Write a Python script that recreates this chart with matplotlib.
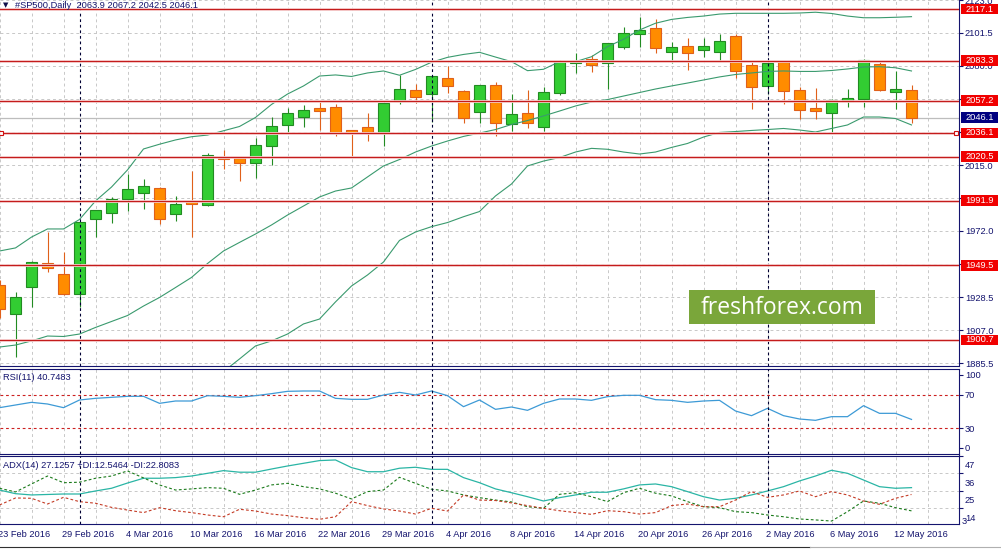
import numpy as np
import matplotlib
matplotlib.use("Agg")
import matplotlib.pyplot as plt
from matplotlib import transforms
from matplotlib.patches import Rectangle
from matplotlib.lines import Line2D

plt.rcParams['font.family'] = ['Liberation Sans', 'DejaVu Sans']

# ---- data (daily candles, 23 Feb 2016 .. 13 May 2016) ----
opens = [1936.7, 1917.5, 1935.2, 1950.8, 1943.6, 1930.6, 1979.6, 1983.9, 1992.7, 1996.6,
         1999.9, 1982.9, 1991.4, 1989.2, 2019.8, 2019.5, 2016.2, 2027.7, 2041.1, 2046.3,
         2052.2, 2052.8, 2037.8, 2039.8, 2036.5, 2057.1, 2063.9, 2061.3, 2071.8, 2063.3,
         2049.6, 2067.2, 2041.7, 2048.9, 2040.1, 2062.0, 2082.0, 2084.2, 2081.6, 2092.5,
         2100.6, 2104.5, 2089.2, 2092.7, 2090.5, 2088.8, 2099.4, 2080.3, 2066.6, 2082.4,
         2063.9, 2052.2, 2048.9, 2057.1, 2058.1, 2081.1, 2062.6, 2063.9]
highs = [1940.0, 1931.9, 1952.5, 1971.1, 1958.0, 1978.0, 1986.0, 1994.0, 2009.2, 2006.0,
         2000.9, 1994.6, 2011.2, 2022.9, 2024.9, 2020.0, 2032.6, 2046.3, 2052.2, 2054.3,
         2056.5, 2055.0, 2038.3, 2049.1, 2056.0, 2073.9, 2068.1, 2073.5, 2079.8, 2064.0,
         2067.6, 2069.4, 2061.3, 2064.1, 2065.9, 2083.6, 2088.5, 2087.0, 2095.0, 2105.5,
         2112.1, 2110.4, 2095.3, 2097.9, 2097.9, 2100.8, 2100.8, 2082.6, 2082.6, 2082.9,
         2065.9, 2065.3, 2058.0, 2064.6, 2084.2, 2082.4, 2076.6, 2067.2]
lows = [1915.0, 1889.8, 1922.5, 1945.3, 1930.0, 1922.5, 1968.2, 1977.0, 1985.2, 1986.5,
        1976.7, 1978.7, 1968.2, 1988.1, 2012.3, 2004.8, 2006.4, 2015.1, 2036.2, 2040.1,
        2038.0, 2034.3, 2021.2, 2031.0, 2027.7, 2055.0, 2055.8, 2043.4, 2062.4, 2042.4,
        2042.4, 2034.1, 2037.5, 2039.5, 2037.5, 2060.9, 2075.1, 2076.1, 2064.8, 2090.9,
        2092.5, 2088.5, 2081.6, 2077.2, 2085.9, 2083.1, 2071.8, 2051.9, 2061.5, 2054.8,
        2045.0, 2045.0, 2036.2, 2053.2, 2052.8, 2063.5, 2051.9, 2042.5]
closes = [1920.8, 1928.6, 1951.5, 1947.6, 1930.6, 1977.6, 1985.5, 1993.1, 1999.2, 2001.2,
          1980.0, 1989.4, 1989.4, 2021.6, 2019.3, 2016.2, 2028.0, 2040.4, 2048.9, 2050.9,
          2050.2, 2036.2, 2036.0, 2036.9, 2055.4, 2064.6, 2059.4, 2073.1, 2066.6, 2045.6,
          2067.2, 2042.4, 2048.3, 2042.4, 2062.6, 2083.1, 2083.1, 2080.3, 2094.7, 2101.2,
          2103.2, 2091.8, 2092.1, 2088.5, 2092.9, 2096.0, 2076.8, 2065.9, 2081.6, 2063.3,
          2050.9, 2050.2, 2057.6, 2058.9, 2083.6, 2064.1, 2064.6, 2046.1]

# Bollinger bands as drawn on the chart
upper_band = [1958.9, 1960.9, 1968.0, 1973.3, 1973.3, 1979.5, 1991.6, 2000.7, 2011.9, 2025.6,
              2028.7, 2031.5, 2033.6, 2034.7, 2037.5, 2040.3, 2046.2, 2054.7, 2061.5, 2066.8,
              2073.3, 2074.0, 2073.0, 2075.3, 2076.6, 2073.8, 2077.6, 2082.3, 2085.5, 2087.4,
              2088.8, 2085.7, 2082.7, 2076.8, 2077.7, 2082.7, 2082.7, 2085.9, 2092.5, 2097.3,
              2103.4, 2107.8, 2110.3, 2111.6, 2112.5, 2113.8, 2114.3, 2114.3, 2114.3, 2114.3,
              2114.5, 2115.0, 2114.2, 2112.5, 2111.4, 2111.4, 2111.7, 2112.1]
mid_band = [1896.1, 1897.4, 1900.1, 1903.3, 1903.0, 1904.6, 1908.9, 1912.8, 1916.7, 1922.9,
            1928.5, 1935.0, 1941.6, 1950.7, 1958.9, 1964.5, 1970.0, 1975.9, 1982.4, 1988.3,
            1994.2, 1998.1, 2000.1, 2007.3, 2014.5, 2018.7, 2023.6, 2027.5, 2030.8, 2033.8,
            2036.0, 2038.3, 2041.6, 2044.2, 2047.2, 2050.4, 2053.7, 2056.3, 2057.9, 2060.2,
            2062.5, 2064.8, 2066.8, 2068.7, 2070.7, 2072.7, 2074.3, 2075.3, 2076.3, 2076.6,
            2076.3, 2076.3, 2076.9, 2077.9, 2079.2, 2079.4, 2078.7, 2076.6]
lower_band = [None] * 14 + [
              1880.1, 1888.3, 1896.8, 1900.1, 1904.6, 1911.2, 1914.4, 1925.6, 1936.0, 1943.2,
              1951.7, 1965.8, 1971.3, 1974.8, 1977.5, 1981.3, 1984.7, 1994.9, 2002.7, 2014.5,
              2017.7, 2020.0, 2023.6, 2026.0, 2025.4, 2023.6, 2022.3, 2023.6, 2026.6, 2029.2,
              2033.4, 2036.4, 2037.0, 2037.7, 2038.3, 2039.0, 2038.0, 2036.7, 2039.0, 2041.3,
              2046.5, 2046.5, 2045.5, 2041.3]

rsi = [54.8, 58.0, 61.2, 59.2, 54.8, 64.0, 66.0, 67.2, 68.4, 68.4,
       60.0, 62.8, 62.8, 69.2, 68.4, 67.2, 69.2, 71.6, 74.4, 74.8,
       74.8, 66.0, 64.8, 64.8, 70.0, 73.2, 70.0, 74.8, 69.2, 56.0,
       64.0, 52.8, 55.6, 51.6, 60.0, 65.2, 65.2, 63.6, 68.0, 69.6,
       69.6, 64.4, 63.6, 61.2, 62.8, 63.6, 50.8, 45.2, 54.0, 45.2,
       41.2, 39.6, 44.0, 44.0, 57.2, 48.0, 48.0, 40.7]
adx = [25.6, 23.3, 22.5, 22.8, 23.1, 23.1, 25.0, 26.7, 30.0, 33.0,
       33.0, 33.4, 34.4, 36.1, 37.8, 36.8, 36.8, 38.8, 40.7, 42.4,
       44.1, 44.5, 39.7, 37.1, 37.1, 39.3, 39.9, 38.6, 38.6, 33.4,
       30.2, 26.3, 23.9, 21.4, 18.7, 20.8, 22.5, 24.2, 24.2, 26.3,
       28.8, 29.4, 27.7, 24.6, 21.4, 19.3, 20.4, 22.5, 25.0, 27.7,
       31.3, 34.4, 38.0, 36.1, 31.9, 27.7, 26.7, 27.1]
plus_di = [26.7, 24.4, 29.4, 34.4, 30.2, 30.5, 33.0, 34.4, 37.6, 33.2,
           28.8, 25.6, 26.3, 27.1, 26.7, 22.9, 25.6, 28.8, 29.8, 27.7,
           26.3, 23.6, 20.0, 24.6, 25.6, 33.6, 29.8, 26.1, 25.0, 22.5,
           20.8, 19.3, 18.1, 15.1, 14.1, 22.9, 23.9, 21.4, 18.3, 23.9,
           26.7, 23.6, 21.9, 18.3, 15.1, 14.5, 12.0, 11.4, 9.9, 8.8,
           7.4, 6.8, 6.1, 12.0, 18.7, 17.3, 14.5, 12.5]
minus_di = [16.2, 20.6, 20.4, 16.8, 21.0, 18.3, 17.3, 14.7, 13.0, 11.4,
            14.5, 12.6, 11.4, 9.9, 8.8, 13.5, 12.4, 10.5, 9.5, 8.2,
            7.2, 8.8, 18.3, 15.8, 13.7, 12.4, 10.5, 14.1, 12.4, 22.5,
            19.3, 19.0, 17.5, 15.8, 14.1, 12.6, 11.4, 10.3, 12.6, 12.0,
            10.5, 11.4, 15.8, 16.8, 15.1, 15.1, 19.3, 24.6, 21.0, 22.5,
            25.0, 21.4, 24.6, 22.5, 18.7, 16.6, 20.4, 22.8]

levels = [2117.1, 2083.3, 2057.2, 2036.1, 2020.5, 1991.9, 1949.5, 1900.7]
price_ticks = [2123.0, 2101.5, 2080.0, 2058.5, 2036.5, 2015.0, 1993.5, 1972.0,
               1950.5, 1928.5, 1907.0, 1885.5]
last_price = 2046.1
date_pos = [0, 4, 8, 12, 16, 20, 24, 28, 32, 36, 40, 44, 48, 52, 56]
date_labels = ["23 Feb 2016", "29 Feb 2016", "4 Mar 2016", "10 Mar 2016", "16 Mar 2016",
               "22 Mar 2016", "29 Mar 2016", "4 Apr 2016", "8 Apr 2016", "14 Apr 2016",
               "20 Apr 2016", "26 Apr 2016", "2 May 2016", "6 May 2016", "12 May 2016"]
separators = [5, 27, 48]   # first bar of Mar, Apr, May

# ---- layout ----
W, H = 1001, 549
navy = '#14146e'
grid_c = '#c8c8c8'
fs = 6.7

fig = plt.figure(figsize=(W / 100, H / 100), dpi=100)


def panel(top, bottom):
    return fig.add_axes([0, 1 - bottom / H, 958.5 / W, (bottom - top) / H])


ax = panel(0, 366)
ax_rsi = panel(368.5, 453.5)
ax_adx = panel(455.5, 524.3)

n = len(closes)
x = np.arange(n)
o, h, l, c = map(np.array, (opens, highs, lows, closes))

for a in (ax, ax_rsi, ax_adx):
    a.set_xlim(0.5 / 16, 959 / 16)
    a.set_xticks([])
    a.spines['left'].set_visible(False)
    for s in ('top', 'bottom', 'right'):
        a.spines[s].set_color(navy)
        a.spines[s].set_linewidth(0.8)
    for i in range(0, 60, 2):
        a.axvline(i, color=grid_c, lw=0.7, ls=(0, (3, 3)), zorder=0)
    for s in separators:
        a.axvline(s, color='#000033', lw=0.8, ls=(0, (2.5, 2.5)), zorder=5)
    a.yaxis.tick_right()
    a.tick_params(axis='y', length=3, width=0.8, colors=navy, labelsize=fs, pad=1.5)
ax.spines['top'].set_visible(False)

# ---- main price panel ----
ax.set_ylim(1883.7, 2123.0)
ax.set_yticks(price_ticks)
ax.set_yticklabels([f"{p:.1f}" for p in price_ticks])
for p in price_ticks:
    ax.axhline(p, color=grid_c, lw=0.7, ls=(0, (3, 3)), zorder=0)
ax.axhline(last_price, color='#bdbdbd', lw=0.9, zorder=1)

up = c >= o
fill = np.where(up, '#32cd32', '#ff8c00')
edge = np.where(up, '#228b22', '#e0601a')
ax.vlines(x, l, h, colors=edge, lw=0.8, zorder=3)
ax.bar(x, np.maximum(np.abs(c - o), 0.4), bottom=np.minimum(o, c), width=0.69,
       color=fill, edgecolor=edge, linewidth=0.8, zorder=4)

band_c = '#3a9a6e'
ax.plot(x, upper_band, color=band_c, lw=0.8, zorder=5)
ax.plot(x, mid_band, color=band_c, lw=0.8, zorder=5)
ax.plot(x, np.array(lower_band, dtype=float), color=band_c, lw=0.8, zorder=5)

for lv in levels:
    ax.axhline(lv, color='#fadada', lw=2.0, zorder=5.5)
    ax.axhline(lv, color='#c41c1c', lw=0.9, zorder=6)
ax.plot([0.12, 59.8], [2036.1, 2036.1], ls='none', marker='s', ms=3.2,
        mfc='white', mec='#d01010', mew=0.8, zorder=7, clip_on=False)

lab_tr = transforms.blended_transform_factory(ax.transAxes, ax.transData)
box_h = 7.0
for lv in levels + [last_price]:
    fc = '#000080' if lv == last_price else '#f00000'
    ax.add_patch(Rectangle((961 / 958.5, lv - box_h / 2), 37 / 958.5, box_h,
                           transform=lab_tr, fc=fc, ec='none', clip_on=False, zorder=8))
    ax.text(979.5 / 958.5, lv, f"{lv:.1f}", transform=lab_tr, ha='center', va='center',
            color='white', fontsize=fs, zorder=9, clip_on=False)

# ---- RSI panel ----
ax_rsi.set_ylim(-0.2, 101.8)
ax_rsi.set_yticks([94, 70, 30, 7])
ax_rsi.set_yticklabels(['100', '70', '30', '0'])
for lv in (70, 30):
    ax_rsi.axhline(lv, color='#cc2020', lw=0.8, ls=(0, (2.5, 2.5)), zorder=1)
ax_rsi.plot(x, rsi, color='#3d9ad6', lw=0.9, zorder=3)

# ---- ADX panel ----
ax_adx.set_ylim(4.05, 47.3)
adx_ticks = [47, 36, 25, 14]
ax_adx.set_yticks(adx_ticks)
ax_adx.set_yticklabels([str(t) for t in adx_ticks])
shift = transforms.ScaledTranslation(0, -9 / 100, fig.dpi_scale_trans)
for t in ax_adx.get_yticklabels():
    t.set_transform(t.get_transform() + shift)
ax_adx.text(962 / 958.5, 6.1, '3', transform=transforms.blended_transform_factory(
    ax_adx.transAxes, ax_adx.transData), color=navy, fontsize=fs, va='center',
    clip_on=False)
for t in adx_ticks[1:]:
    ax_adx.axhline(t, color=grid_c, lw=0.7, ls=(0, (3, 3)), zorder=0)
ax_adx.plot(x, adx, color='#2ab5a5', lw=0.9, zorder=3)
ax_adx.plot(x, plus_di, color='#1a7a1a', lw=0.8, ls=(0, (2.5, 2)), zorder=3)
ax_adx.plot(x, minus_di, color='#c43a24', lw=0.8, ls=(0, (2.5, 2)), zorder=3)

# date labels
date_tr = transforms.blended_transform_factory(ax_adx.transData, ax_adx.transAxes)
for p, lab in zip(date_pos, date_labels):
    ax_adx.text(p - 1 / 16, -0.145, lab, transform=date_tr, ha='left', va='center',
                color=navy, fontsize=fs, clip_on=False)

# ---- captions ----
fig.text(2.5 / W, 1 - 5.5 / H, '\u25bc', family='DejaVu Sans', fontsize=5,
         color='#10104a', va='center')
fig.text(15 / W, 1 - 5.5 / H, '#SP500,Daily  2063.9 2067.2 2042.5 2046.1',
         color=navy, fontsize=fs, va='center')
fig.text(3 / W, 1 - 377.5 / H, 'RSI(11) 40.7483', color=navy, fontsize=fs, va='center')
fig.text(3 / W, 1 - 465 / H, 'ADX(14) 27.1257 +DI:12.5464 -DI:22.8083',
         color=navy, fontsize=fs, va='center')

# watermark
fig.add_artist(Rectangle((689 / W, 1 - 324 / H), 186 / W, 34 / H,
                         transform=fig.transFigure, fc='#7aa63a', ec='none', zorder=10))
fig.text(782 / W, 1 - 307.5 / H, 'freshforex.com', family='Open Sans', fontsize=16.5,
         color='white', ha='center', va='center', zorder=11)

fig.add_artist(Line2D([0, 810 / W], [1 - 547 / H] * 2, transform=fig.transFigure,
                      color='#303030', lw=0.8))
fig.add_artist(Line2D([810 / W, 1], [1 - 547 / H] * 2, transform=fig.transFigure,
                      color='#b0b0b0', lw=0.8))

fig.savefig('out.png', dpi=100, facecolor='white')
